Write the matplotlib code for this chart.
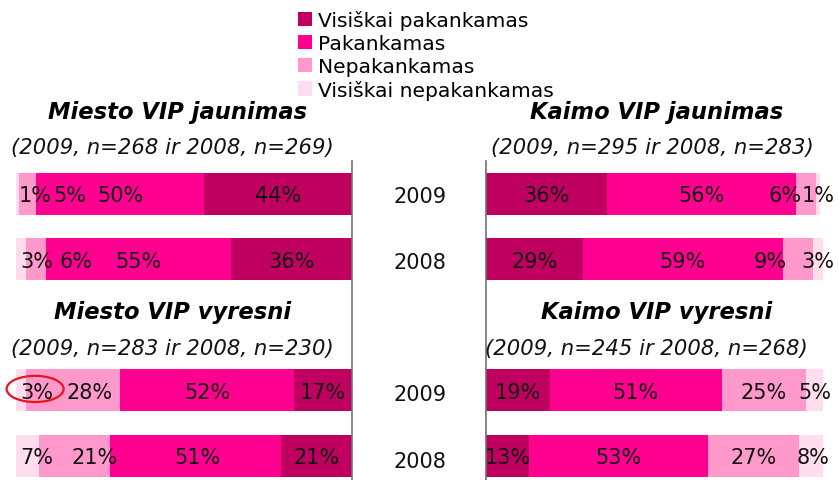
import matplotlib
matplotlib.use("Agg")
import matplotlib.pyplot as plt
from matplotlib.patches import Patch, Ellipse

W, H = 838, 481

categories = ["Visiškai pakankamas", "Pakankamas", "Nepakankamas", "Visiškai nepakankamas"]
colors = ["#C00060", "#FF0090", "#FF99CC", "#FFDDEE"]
years = ["2009", "2008"]

titles = ["Miesto VIP jaunimas", "Kaimo VIP jaunimas", "Miesto VIP vyresni", "Kaimo VIP vyresni"]
subtitles = ["(2009, n=268 ir 2008, n=269)", "(2009, n=295 ir 2008, n=283)",
             "(2009, n=283 ir 2008, n=230)", "(2009, n=245 ir 2008, n=268)"]

# shares per year (2009, 2008), in category order
miesto_jaunimas = [[44, 50, 5, 1], [36, 55, 6, 3]]
kaimo_jaunimas = [[36, 56, 6, 1], [29, 59, 9, 3]]
miesto_vyresni = [[17, 52, 28, 3], [21, 51, 21, 7]]
kaimo_vyresni = [[19, 51, 25, 5], [13, 53, 27, 8]]

# label nudges toward the centre line (percent units), as placed in the original
nudge_mj = [[0, 0, -12.6, -5.2], [0, 0, -11.9, -4.7]]
nudge_kj = [[0, 0, -6.1, 0], [0, 0, -8.2, 0]]
nudge_mv = [[0, 0, -5.0, -4.6], [0, -0.6, -5.9, -2.6]]
nudge_kv = [[0, 0, 0, 0], [0, 0, 0, 0]]

FS = 15
plt.rcParams["font.family"] = "DejaVu Sans"

fig = plt.figure(figsize=(W / 100, H / 100), dpi=100)


def fx(px):
    return px / W


def fy(py):
    return 1 - py / H


ax_l = fig.add_axes([fx(16), 0, fx(335.5), (H - 162) / H])
ax_r = fig.add_axes([fx(485.5), 0, fx(337.5), (H - 162) / H])

rows = [0, 1, 3, 4]
panels = [(ax_l, [miesto_jaunimas, miesto_vyresni], [nudge_mj, nudge_mv]),
          (ax_r, [kaimo_jaunimas, kaimo_vyresni], [nudge_kj, nudge_kv])]

for ax, groups, nudges in panels:
    k = 0
    for data, nud in zip(groups, nudges):
        for vals, sh in zip(data, nud):
            y = rows[k]
            left = 0
            for v, c, s in zip(vals, colors, sh):
                ax.barh(y, v, left=left, height=0.64, color=c, edgecolor="none")
                ax.text(left + v / 2 + s, y + 0.02, f"{v}%", ha="center", va="center",
                        fontsize=FS, color="#111111", clip_on=False)
                left += v
            k += 1
    ax.set_ylim(4.37, -0.5)
    ax.set_xticks([])
    ax.set_yticks([])
    for sp in ax.spines.values():
        sp.set_visible(False)

ax_l.set_xlim(100, 0)
ax_r.set_xlim(0, 100)
ax_l.spines["right"].set_visible(True)
ax_r.spines["left"].set_visible(True)
for sp in (ax_l.spines["right"], ax_r.spines["left"]):
    sp.set_color("#707070")
    sp.set_linewidth(1.2)

# highlight around the 3% label
ax_l.add_patch(Ellipse((94.3, 2.98), 17, 0.4, fill=False, edgecolor="#E8141E",
                       linewidth=1.6, clip_on=False))

# year labels between the panels
for py, yr in zip([202.7, 269.3, 401, 467.7], years * 2):
    fig.text(fx(420), fy(py), yr, ha="center", va="baseline", fontsize=FS, color="#111111")

# panel titles
title_pos = [(178, 119), (657, 119), (173, 319), (657, 319)]
sub_pos = [(172, 154), (652, 154), (172, 355), (646, 355)]
for t, (x, y) in zip(titles, title_pos):
    fig.text(fx(x), fy(y), t, ha="center", va="baseline", fontsize=16.3,
             fontweight="bold", fontstyle="italic", color="black")
for t, (x, y) in zip(subtitles, sub_pos):
    fig.text(fx(x), fy(y), t, ha="center", va="baseline", fontsize=15.2,
             fontstyle="italic", color="#111111")

handles = [Patch(facecolor=c, edgecolor="none") for c in colors]
fig.legend(handles, categories, loc="upper left", bbox_to_anchor=(fx(298), fy(11)),
           frameon=False, fontsize=14.6, handlelength=0.7, handleheight=0.7,
           handletextpad=0.3, labelspacing=0.19, borderpad=0, borderaxespad=0)

fig.savefig("out.png", dpi=100)
